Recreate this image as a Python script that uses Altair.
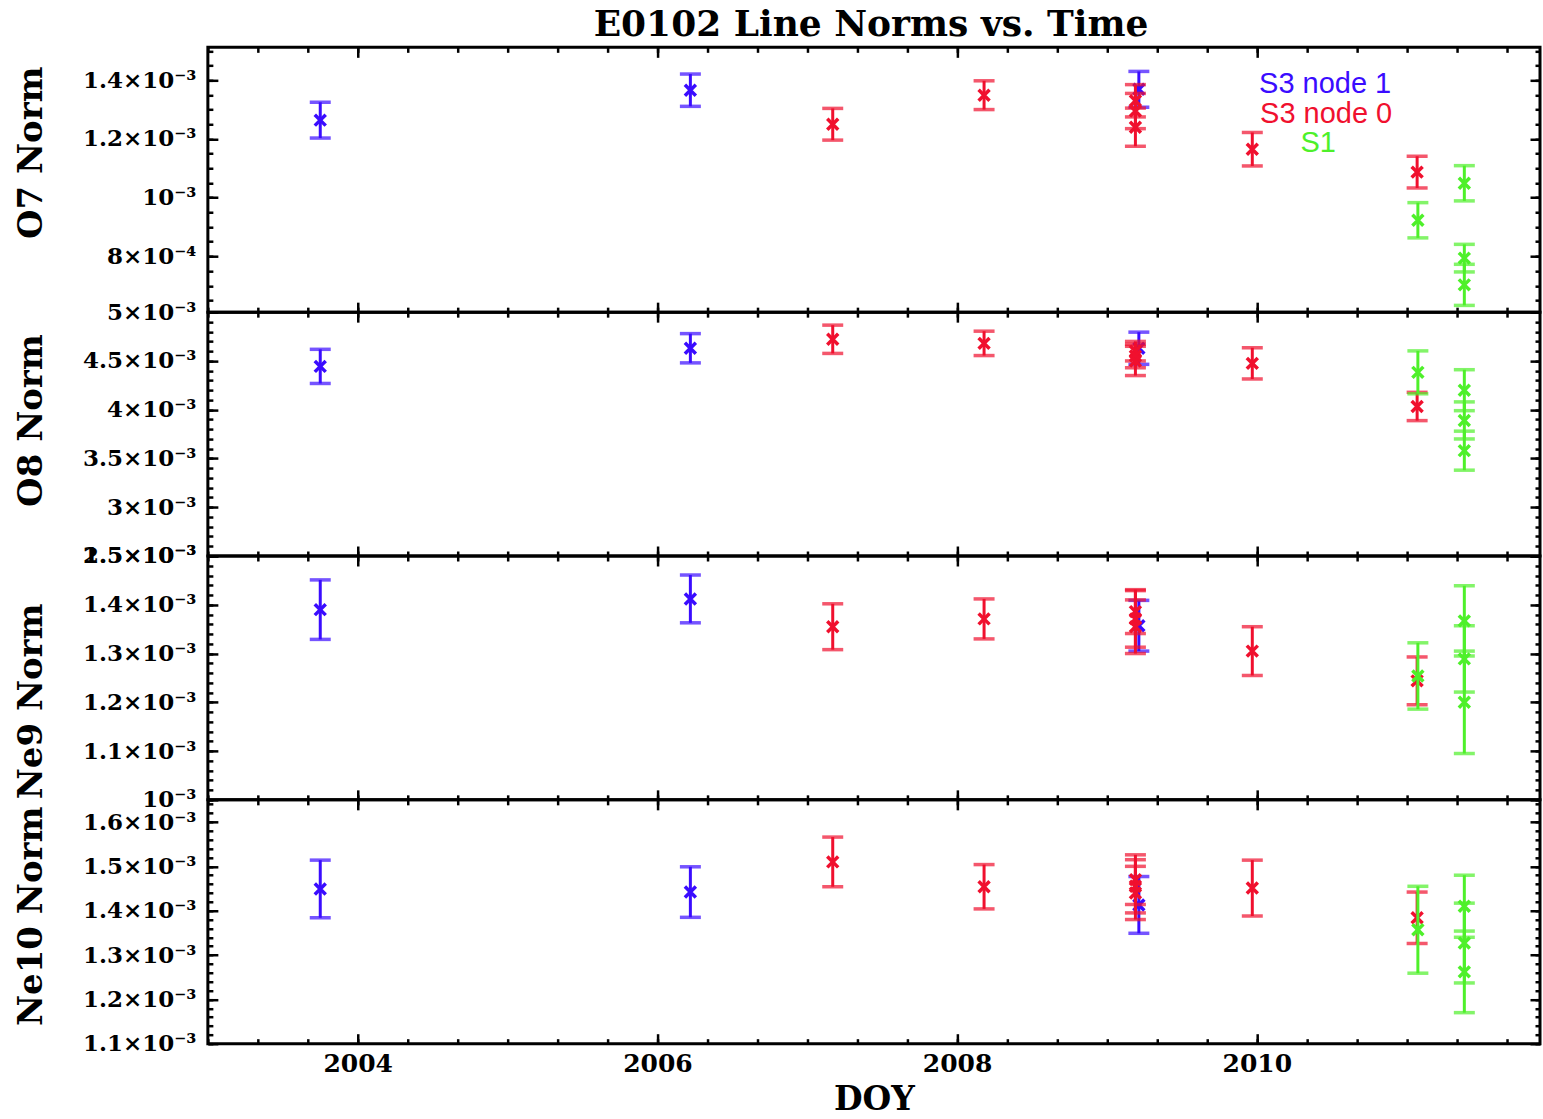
import altair as alt
import pandas as pd

# ---------------- data ----------------
SERIES = ["S3 node 1", "S3 node 0", "S1"]
COLORS = ["#3a0cff", "#f0102e", "#4ef02a"]

# observation times (decimal year) and detector/series for each observation
T = [2003.75, 2006.22, 2007.17, 2008.18, 2009.213, 2009.19, 2009.19, 2009.19,
     2009.97, 2011.07, 2011.075, 2011.385, 2011.385, 2011.385]
S = ["S3 node 1", "S3 node 1", "S3 node 0", "S3 node 0", "S3 node 1", "S3 node 0",
     "S3 node 0", "S3 node 0", "S3 node 0", "S3 node 0", "S1", "S1", "S1", "S1"]

O7_V = [1.264e-3, 1.366e-3, 1.250e-3, 1.349e-3, 1.369e-3, 1.330e-3, 1.295e-3, 1.240e-3,
        1.165e-3, 1.087e-3, 0.923e-3, 1.049e-3, 0.794e-3, 0.703e-3]
O7_E = [0.061e-3, 0.055e-3, 0.054e-3, 0.049e-3, 0.061e-3, 0.055e-3, 0.060e-3, 0.065e-3,
        0.057e-3, 0.054e-3, 0.060e-3, 0.060e-3, 0.047e-3, 0.070e-3]

O8_V = [4.444e-3, 4.630e-3, 4.722e-3, 4.680e-3, 4.630e-3, 4.600e-3, 4.550e-3, 4.500e-3,
        4.475e-3, 4.033e-3, 4.383e-3, 4.200e-3, 3.890e-3, 3.580e-3]
O8_E = [0.175e-3, 0.150e-3, 0.145e-3, 0.125e-3, 0.165e-3, 0.100e-3, 0.120e-3, 0.150e-3,
        0.160e-3, 0.145e-3, 0.220e-3, 0.210e-3, 0.190e-3, 0.200e-3]

NE9_V = [1.390e-3, 1.412e-3, 1.355e-3, 1.371e-3, 1.357e-3, 1.386e-3, 1.371e-3, 1.355e-3,
         1.305e-3, 1.244e-3, 1.254e-3, 1.367e-3, 1.289e-3, 1.200e-3]
NE9_E = [0.061e-3, 0.049e-3, 0.047e-3, 0.041e-3, 0.052e-3, 0.045e-3, 0.058e-3, 0.055e-3,
         0.050e-3, 0.049e-3, 0.068e-3, 0.072e-3, 0.068e-3, 0.105e-3]

NE10_V = [1.449e-3, 1.442e-3, 1.510e-3, 1.454e-3, 1.413e-3, 1.470e-3, 1.455e-3, 1.440e-3,
          1.451e-3, 1.384e-3, 1.357e-3, 1.410e-3, 1.327e-3, 1.262e-3]
NE10_E = [0.065e-3, 0.057e-3, 0.056e-3, 0.050e-3, 0.064e-3, 0.056e-3, 0.060e-3, 0.060e-3,
          0.063e-3, 0.058e-3, 0.098e-3, 0.070e-3, 0.090e-3, 0.092e-3]

# axis ticks and labels
XDOM = [2003.0, 2011.89]
X_MAJOR = [2004, 2006, 2008, 2010]
X_MINOR = [2003 + k / 3 for k in range(0, 27)]

O7_DOM = [0.610e-3, 1.512e-3]
O7_TICKS = [0.8e-3, 1.0e-3, 1.2e-3, 1.4e-3]
O7_LABELS = ["8×10⁻⁴", "10⁻³", "1.2×10⁻³", "1.4×10⁻³"]
O7_MINOR = [round(0.6e-3 + k * 0.05e-3, 8) for k in range(0, 19)]

O8_DOM = [2.5e-3, 5.0e-3]
O8_TICKS = [2.5e-3, 3.0e-3, 3.5e-3, 4.0e-3, 4.5e-3, 5.0e-3]
O8_LABELS = ["2.5×10⁻³", "3×10⁻³", "3.5×10⁻³", "4×10⁻³", "4.5×10⁻³", "5×10⁻³"]
O8_MINOR = [round(2.5e-3 + k * 0.1e-3, 8) for k in range(0, 26)]

NE9_DOM = [1.0e-3, 1.5e-3]
NE9_TICKS = [1.0e-3, 1.1e-3, 1.2e-3, 1.3e-3, 1.4e-3, 1.5e-3]
NE9_LABELS = ["10⁻³", "1.1×10⁻³", "1.2×10⁻³", "1.3×10⁻³", "1.4×10⁻³", "1.5×10⁻³"]
NE9_MINOR = [round(1.0e-3 + k * 0.02e-3, 8) for k in range(0, 26)]

NE10_DOM = [1.1e-3, 1.65e-3]
NE10_TICKS = [1.1e-3, 1.2e-3, 1.3e-3, 1.4e-3, 1.5e-3, 1.6e-3]
NE10_LABELS = ["1.1×10⁻³", "1.2×10⁻³", "1.3×10⁻³", "1.4×10⁻³", "1.5×10⁻³", "1.6×10⁻³"]
NE10_MINOR = [round(1.1e-3 + k * 0.02e-3, 8) for k in range(0, 28)]

# ---------------- styling ----------------
FONT = "DejaVu Serif"
XSHAPE = "M-1,-1L1,1M-1,1L1,-1"
W = 1333
AXBASE = dict(domain=False, grid=False, tickColor="black", tickWidth=2.5,
              labelFont=FONT, labelFontWeight="bold", labelColor="black",
              titleFont=FONT, titleFontWeight="bold", titleColor="black",
              labelOverlap=False, labelFlush=False, labelBound=False)


def label_expr(vals, labels):
    expr = "''"
    for v, l in zip(reversed(vals), reversed(labels)):
        expr = f"abs(datum.value - {v!r}) < 1e-10 ? '{l}' : ({expr})"
    return expr


def axis(orient, values, size, **kw):
    opts = dict(AXBASE)
    opts.update(kw)
    if "labels" not in opts:
        opts["labels"] = False
    if "title" not in opts:
        opts["title"] = None
    return alt.Axis(orient=orient, values=values, tickSize=size, offset=-size, **opts)


def panel(V, E, dom, ytitle, ticks, labels, minor, h, title_y, last=False, legend=False):
    df = pd.DataFrame({"t": T, "s": S, "v": V,
                       "lo": [v - e for v, e in zip(V, E)],
                       "hi": [v + e for v, e in zip(V, E)]})
    xs = alt.Scale(domain=XDOM, nice=False, zero=False)
    ys = alt.Scale(domain=dom, nice=False, zero=False)
    X = alt.X("t:Q", scale=xs, axis=None)
    layers = []
    for name, col in zip(SERIES, COLORS):
        b = alt.Chart(df).transform_filter(alt.datum.s == name)
        layers.append(b.mark_rule(color=col, strokeWidth=3).encode(
            x=X, y=alt.Y("lo:Q", scale=ys, axis=None), y2="hi:Q"))
        for f in ["lo", "hi"]:
            layers.append(b.mark_tick(color=col, orient="horizontal", size=21, thickness=3.5).encode(
                x=X, y=alt.Y(f"{f}:Q", scale=ys, axis=None)))
        layers.append(b.mark_point(shape=XSHAPE, color=col, filled=False, strokeWidth=3.5,
                                   size=120, opacity=1).encode(
            x=X, y=alt.Y("v:Q", scale=ys, axis=None)))

    def ax(xa, ya):
        return alt.Chart(df).mark_point(opacity=0).encode(
            x=alt.X("t:Q", scale=xs, axis=xa), y=alt.Y("v:Q", scale=ys, axis=ya))

    xkw = dict(labels=True, format="d", labelFontSize=25, labelPadding=8) if last else {}
    if last:
        xkw.update(title="DOY", titleFontSize=33, titlePadding=7)
    left_major = axis("left", ticks, 10, labels=True, labelExpr=label_expr(ticks, labels),
                      labelFontSize=23, labelPadding=12, title=ytitle, titleFontSize=34,
                      titleX=-176, titleY=title_y, titleAngle=270, titleAlign="center",
                      titleBaseline="alphabetic")
    layers += [
        ax(axis("bottom", X_MAJOR, 10, **xkw), left_major),
        ax(axis("bottom", X_MINOR, 5), axis("left", minor, 5)),
        ax(axis("top", X_MAJOR, 10), axis("right", ticks, 10)),
        ax(axis("top", X_MINOR, 5), axis("right", minor, 5)),
    ]
    if legend:
        ltxt = pd.DataFrame({"label": SERIES})
        pos = [(1118, 37), (1119, 67), (1111, 96)]
        for name, col, (px, py) in zip(SERIES, COLORS, pos):
            layers.append(alt.Chart(ltxt).transform_filter(alt.datum.label == name).mark_text(
                font="Liberation Sans", fontSize=29, color=col, align="center", baseline="middle"
            ).encode(x=alt.value(px), y=alt.value(py), text="label:N"))
    return alt.layer(*layers).resolve_axis(x="independent", y="independent").properties(width=W, height=h)


p1 = panel(O7_V, O7_E, O7_DOM, "O7 Norm", O7_TICKS, O7_LABELS, O7_MINOR, 265, 105, legend=True)
p2 = panel(O8_V, O8_E, O8_DOM, "O8 Norm", O8_TICKS, O8_LABELS, O8_MINOR, 244, 108)
p3 = panel(NE9_V, NE9_E, NE9_DOM, "Ne9 Norm", NE9_TICKS, NE9_LABELS, NE9_MINOR, 244, 145)
p4 = panel(NE10_V, NE10_E, NE10_DOM, "Ne10 Norm", NE10_TICKS, NE10_LABELS, NE10_MINOR, 244, 116, last=True)

chart = alt.vconcat(p1, p2, p3, p4, spacing=0, bounds="flush").properties(
    title=alt.Title("E0102 Line Norms vs. Time", font=FONT, fontSize=36, fontWeight="bold",
                    color="black", anchor="middle", offset=1, dx=93),
    padding={"left": 13, "top": 6, "right": 0, "bottom": 0},
).configure_view(stroke="black", strokeWidth=3)

chart.save("out.html", embed_options={"renderer": "svg", "actions": False})
